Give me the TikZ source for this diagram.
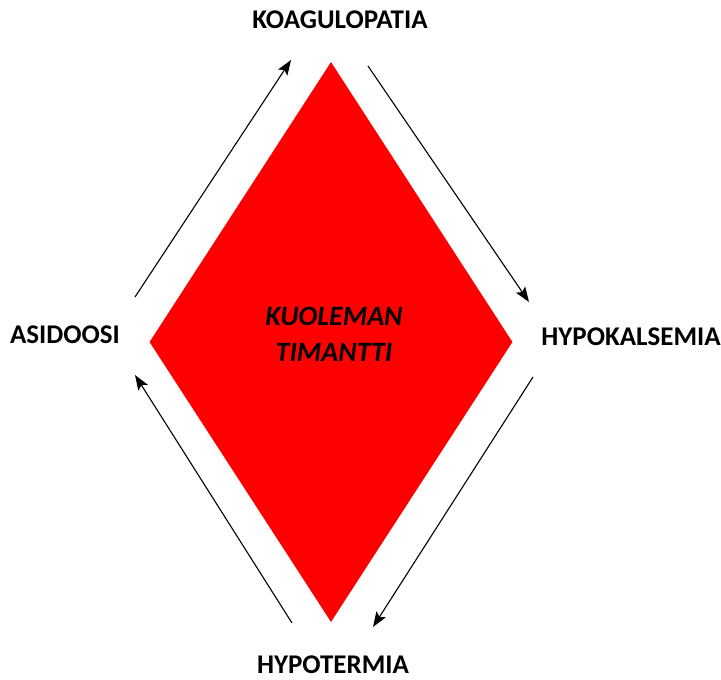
\documentclass[tikz,border=0pt]{standalone}
\usepackage{fontspec}
\setmainfont{Carlito}
\usetikzlibrary{positioning}
\usetikzlibrary{shapes.geometric}
\usetikzlibrary{arrows.meta}

\begin{document}
\begin{tikzpicture}[x=1pt, y=-1pt,
			term/.style={font=\fontsize{27}{32}\selectfont\bfseries, inner sep=1pt},
			cycle/.style={draw, line width=1.1pt, -{Stealth[length=15pt, width=11pt, inset=3pt]}}]
			\useasboundingbox (0,0) rectangle (721,680);
			\node[diamond, fill=red, inner sep=0pt, minimum width=363pt, minimum height=560pt] (diamond) at (331,342){};
			\node[align=center, font=\fontsize{28}{36}\selectfont\bfseries\itshape](title) at (334,334){KUOLEMAN\\TIMANTTI};
			\node[term](koag) at (340,20){KOAGULOPATIA};
			\node[term](hypok) at (631,337){HYPOKALSEMIA};
			\node[term](hypot) at (333,665){HYPOTERMIA};
			\node[term](asid) at (65,335){ASIDOOSI};
			% arrow ends
			\coordinate (a1) at (135,297);
			\coordinate (a2) at (291,60);
			\coordinate (b1) at (368,66);
			\coordinate (b2) at (529,302);
			\coordinate (c1) at (533,377);
			\coordinate (c2) at (373,627);
			\coordinate (d1) at (292,623);
			\coordinate (d2) at (135,375);
			\path[cycle] (a1) -- (a2);
			\path[cycle] (b1) -- (b2);
			\path[cycle] (c1) -- (c2);
			\path[cycle] (d1) -- (d2);
	\end{tikzpicture}
\end{document}
